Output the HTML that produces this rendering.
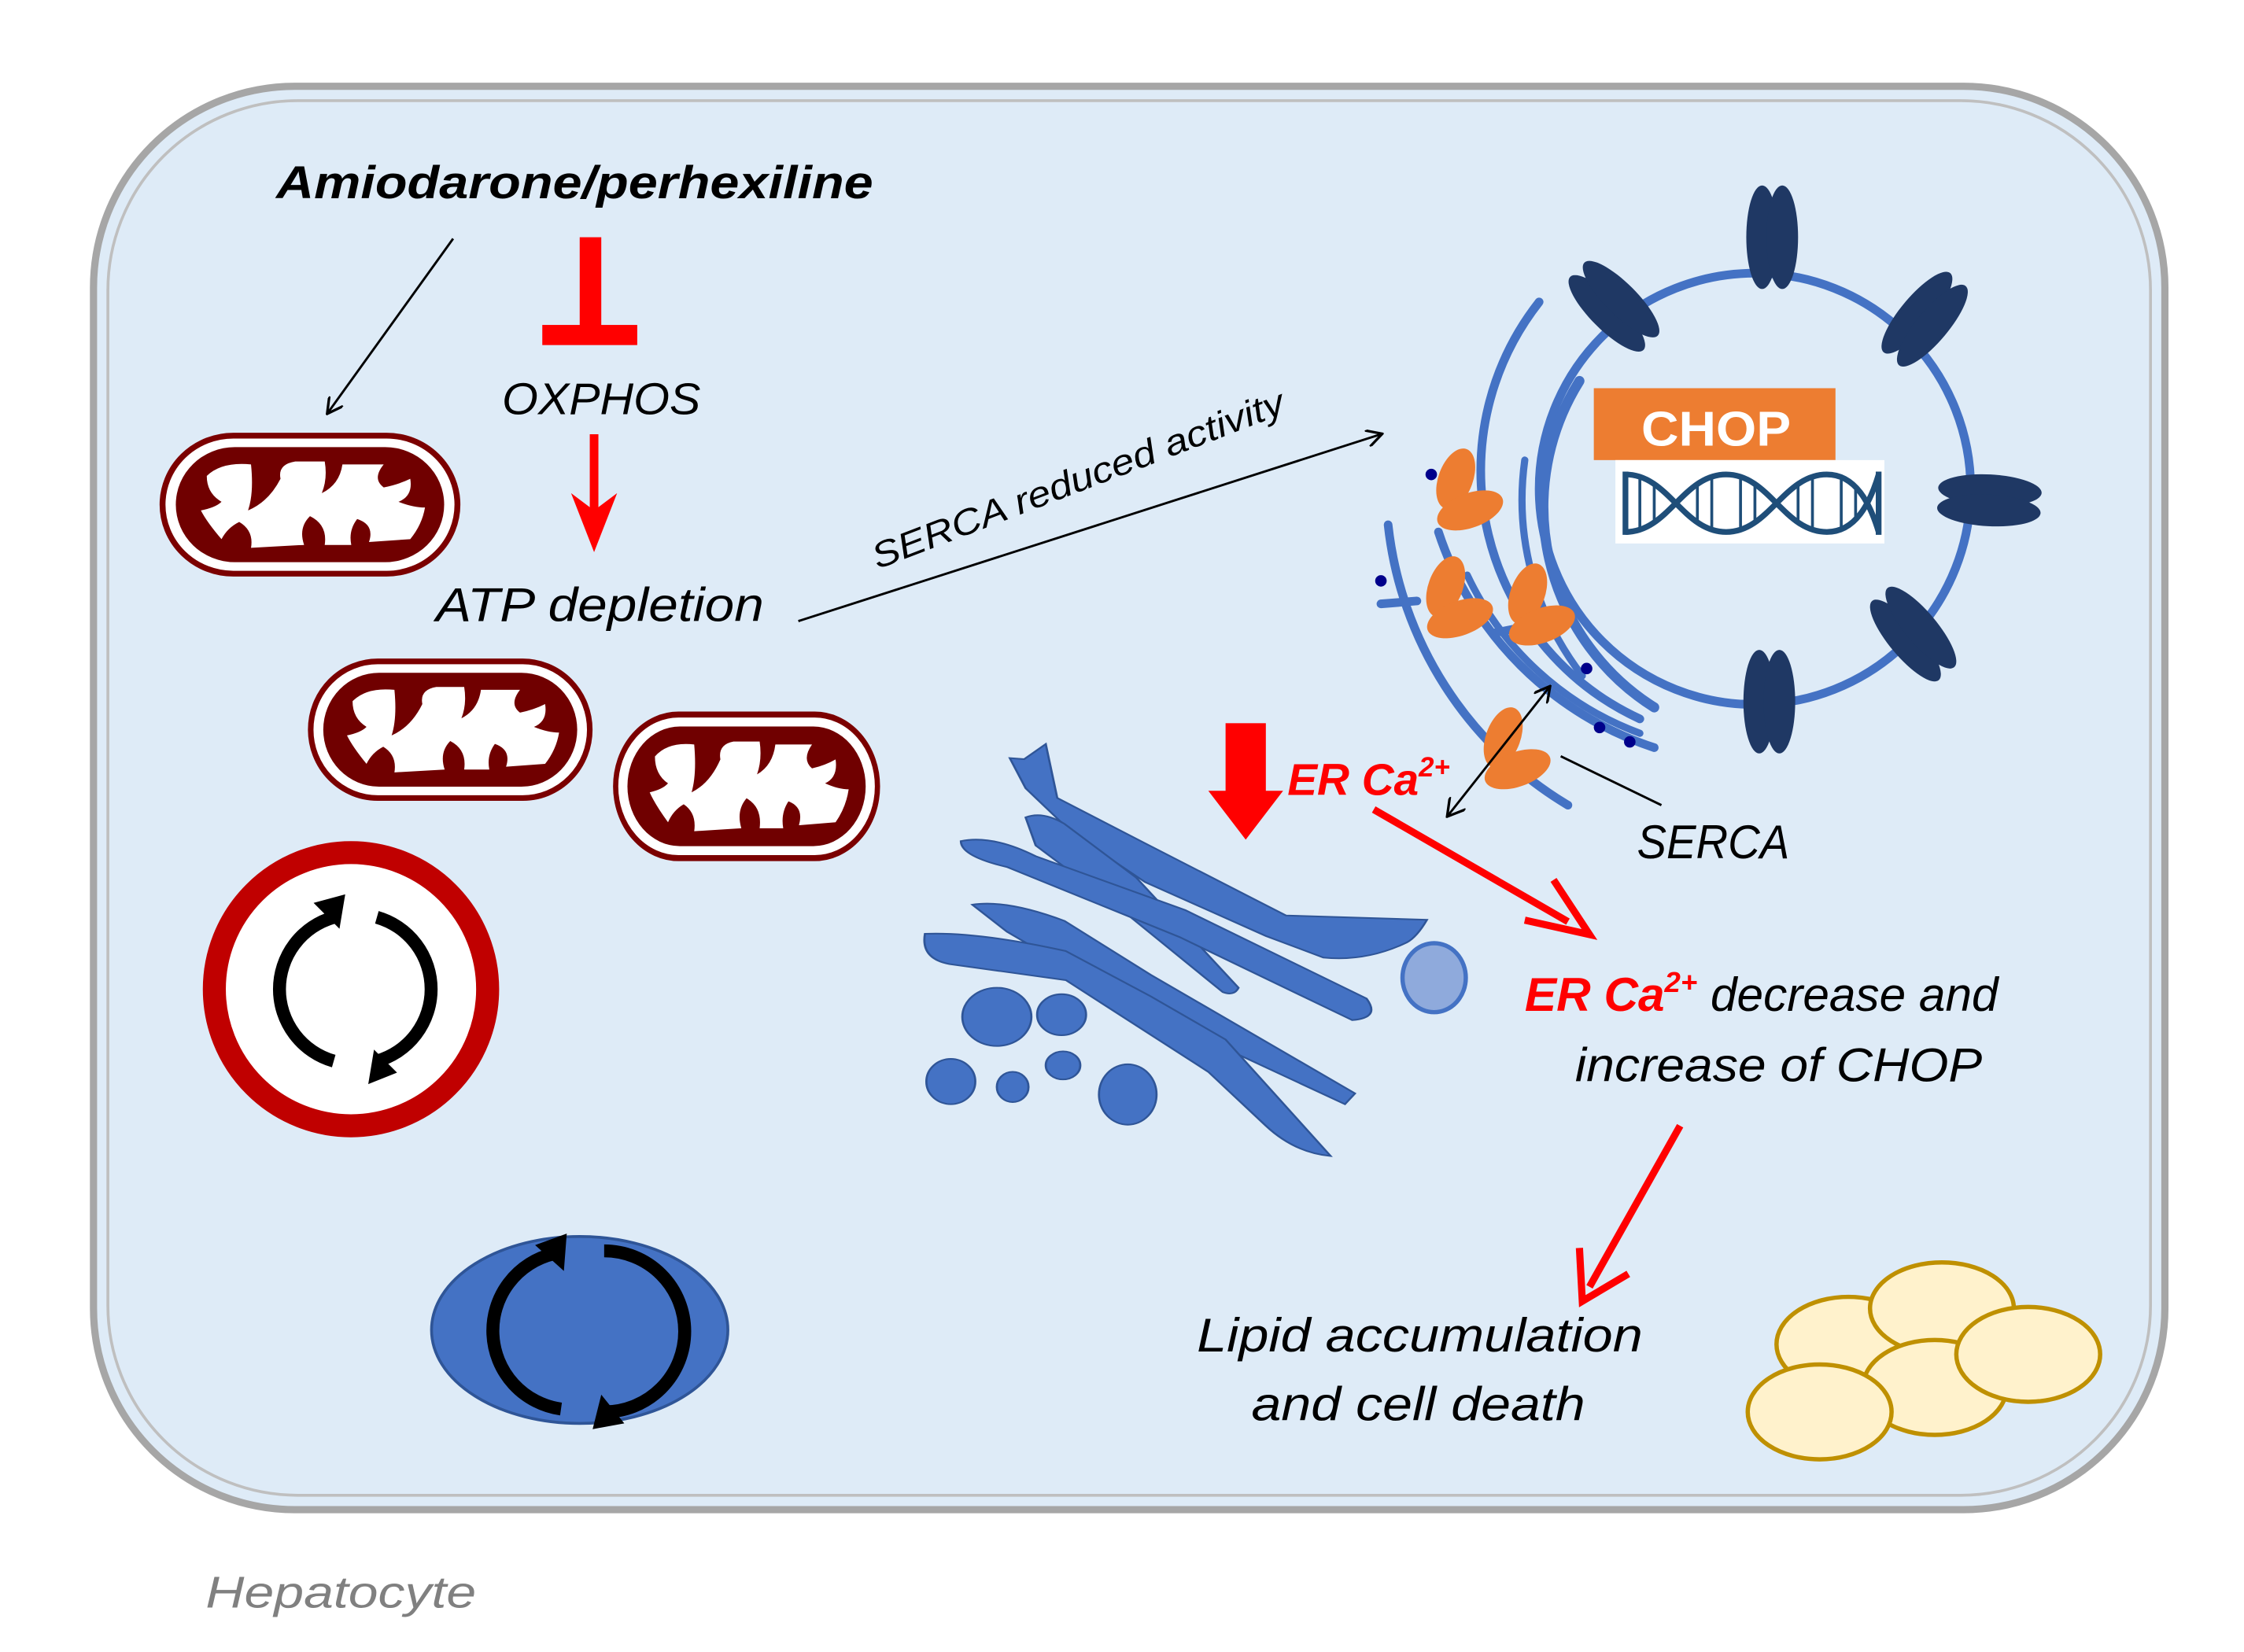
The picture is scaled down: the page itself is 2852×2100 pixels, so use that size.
<!DOCTYPE html>
<html><head><meta charset="utf-8"><style>html,body{margin:0;padding:0;background:#fff}svg{display:block}</style></head>
<body>
<svg width="2852" height="2100" viewBox="0 0 1560 1149" preserveAspectRatio="none" xmlns="http://www.w3.org/2000/svg" font-family="'Liberation Sans', sans-serif">
<defs>
<marker id="oa" markerWidth="12" markerHeight="12" refX="10" refY="6" orient="auto" markerUnits="userSpaceOnUse"><path d="M0,0 L11,6 L0,12" fill="none" stroke="#000" stroke-width="1.8"/></marker>
<marker id="oa2" markerWidth="14" markerHeight="14" refX="1" refY="7" orient="auto" markerUnits="userSpaceOnUse"><path d="M13,0 L1,7 L13,14" fill="none" stroke="#000" stroke-width="1.8"/></marker>
<g id="mito">
<rect x="0" y="0" width="200" height="96" rx="48" fill="#fff" stroke="#7b0000" stroke-width="4"/>
<rect x="9" y="8" width="182" height="80" rx="40" fill="#700000"/>
<path d="M30,28 Q40,18 60,20 Q62,40 58,52 Q72,46 80,30 Q78,20 90,18 L110,18 Q112,30 108,40 Q120,34 122,20 L150,20 Q142,30 150,36 Q160,34 168,30 Q170,42 160,46 Q170,50 178,50 Q176,62 168,72 L140,74 Q144,62 132,58 Q126,66 128,76 L110,76 Q112,62 100,56 Q92,64 96,76 L60,78 Q62,66 52,60 Q44,64 40,72 Q30,60 26,52 Q36,50 40,46 Q30,40 30,28 Z" fill="#fff"/>
</g>
<g id="pore"><ellipse cx="-7" cy="0" rx="11" ry="36" fill="#1f3864"/><ellipse cx="7" cy="0" rx="11" ry="36" fill="#1f3864"/></g>
<g id="serca"><ellipse cx="0" cy="-12" rx="12" ry="22" transform="rotate(20 0 -12)" fill="#ed7d31"/><ellipse cx="10" cy="10" rx="24" ry="12" transform="rotate(-20 10 10)" fill="#ed7d31"/></g>
</defs>

<rect x="65" y="60" width="1440" height="990" rx="140" fill="#deebf7" stroke="#a6a6a6" stroke-width="5"/>
<rect x="75" y="70" width="1420" height="970" rx="132" fill="none" stroke="#bfbfbf" stroke-width="2"/>

<text x="192" y="138" font-size="32" font-weight="bold" font-style="italic" textLength="415" lengthAdjust="spacingAndGlyphs">Amiodarone/perhexiline</text>
<text x="349" y="288" font-size="31" font-style="italic" textLength="138" lengthAdjust="spacingAndGlyphs">OXPHOS</text>
<text x="303" y="432" font-size="33" font-style="italic" textLength="228" lengthAdjust="spacingAndGlyphs">ATP depletion</text>
<text x="0" y="0" font-size="25" font-style="italic" transform="translate(610,396) rotate(-21)" textLength="305" lengthAdjust="spacingAndGlyphs">SERCA reduced activity</text>
<text x="895" y="553" font-size="31" font-weight="bold" font-style="italic" fill="#ff0000">ER Ca<tspan font-size="19" dy="-13">2+</tspan></text>
<text x="1138" y="597" font-size="33" font-style="italic" textLength="106" lengthAdjust="spacingAndGlyphs">SERCA</text>
<text x="1060" y="703" font-size="33" font-style="italic"><tspan fill="#ff0000" font-weight="bold">ER Ca</tspan><tspan fill="#ff0000" font-weight="bold" font-size="20" dy="-13">2+</tspan><tspan dy="13"> decrease and</tspan></text>
<text x="1095" y="752" font-size="33" font-style="italic" textLength="283" lengthAdjust="spacingAndGlyphs">increase of CHOP</text>
<text x="832" y="940" font-size="33" font-style="italic" textLength="310" lengthAdjust="spacingAndGlyphs">Lipid accumulation</text>
<text x="870" y="988" font-size="33" font-style="italic" textLength="232" lengthAdjust="spacingAndGlyphs">and cell death</text>
<text x="143" y="1118" font-size="31" font-style="italic" fill="#808080" textLength="188" lengthAdjust="spacingAndGlyphs">Hepatocyte</text>

<use href="#mito" transform="translate(113,303) scale(1.025,1)"/>
<use href="#mito" transform="translate(216,460) scale(0.97,0.99)"/>
<use href="#mito" transform="translate(428,497) scale(0.91,1.04)"/>

<line x1="315" y1="166" x2="228" y2="287" stroke="#000" stroke-width="1.6" marker-end="url(#oa)"/>
<rect x="403" y="165" width="15" height="66" fill="#ff0000"/>
<rect x="377" y="226" width="66" height="14" fill="#ff0000"/>
<line x1="413" y1="302" x2="413" y2="360" stroke="#ff0000" stroke-width="6"/>
<path d="M397,343 L413,384 L429,343 L413,355 Z" fill="#ff0000"/>
<line x1="555" y1="432" x2="960" y2="302" stroke="#000" stroke-width="1.6" marker-end="url(#oa)"/>

<circle cx="244" cy="688" r="95" fill="#fff" stroke="#c00000" stroke-width="16"/>
<path d="M232,638 A52,52 0 0,0 232,738" fill="none" stroke="#000" stroke-width="9"/>
<path d="M218,628 L240,622 L236,646 Z" fill="#000"/>
<path d="M262,638 A52,52 0 0,1 262,738" fill="none" stroke="#000" stroke-width="9"/>
<path d="M276,746 L256,754 L260,730 Z" fill="#000"/>

<ellipse cx="403" cy="925" rx="103" ry="65" fill="#4472c4" stroke="#2f5597" stroke-width="2"/>
<path d="M385,872 A55,55 0 0,0 390,980" fill="none" stroke="#000" stroke-width="9"/>
<path d="M372,866 L394,858 L392,884 Z" fill="#000"/>
<path d="M420,870 A55,55 0 0,1 420,982" fill="none" stroke="#000" stroke-width="9"/>
<path d="M434,990 L412,994 L418,970 Z" fill="#000"/>

<g fill="none" stroke="#4472c4" stroke-linecap="round">
<circle cx="1220" cy="340" r="150" stroke-width="6"/>
<path d="M1098,265 A165,165 0 0,0 1150,492" stroke-width="7"/>
<path d="M1070,210 A190,190 0 0,0 1140,500" stroke-width="6"/>
<path d="M1000,370 A235,235 0 0,0 1150,520" stroke-width="6"/>
<path d="M1020,400 A215,215 0 0,0 1140,510" stroke-width="5"/>
<path d="M965,365 A260,260 0 0,0 1090,560" stroke-width="6"/>
<path d="M1060,320 A200,200 0 0,0 1100,470" stroke-width="5"/>
<path d="M960,420 L985,418" stroke-width="6"/>
<path d="M1040,440 L1060,436" stroke-width="6"/>
</g>
<g fill="#00008b"><circle cx="960" cy="404" r="4"/><circle cx="995" cy="330" r="4"/><circle cx="1103" cy="465" r="4"/><circle cx="1112" cy="506" r="4"/><circle cx="1133" cy="516" r="4"/></g>

<use href="#pore" transform="translate(1232,165)"/>
<use href="#pore" transform="translate(1122,213) rotate(-45)"/>
<use href="#pore" transform="translate(1338,222) rotate(40)"/>
<use href="#pore" transform="translate(1383,348) rotate(93)"/>
<use href="#pore" transform="translate(1330,441) rotate(-40)"/>
<use href="#pore" transform="translate(1230,488)"/>

<use href="#serca" transform="translate(1012,345)"/>
<use href="#serca" transform="translate(1005,420)"/>
<use href="#serca" transform="translate(1062,425)"/>
<use href="#serca" transform="translate(1045,525)"/>

<rect x="1108" y="270" width="168" height="50" fill="#ed7d31"/>
<text x="1141" y="310" font-size="34" font-weight="bold" fill="#fff" textLength="104" lengthAdjust="spacingAndGlyphs">CHOP</text>
<rect x="1123" y="320" width="187" height="58" fill="#fff"/>
<g fill="none" stroke="#1f4e79" stroke-width="4">
<path d="M1130,330 C1160,330 1170,370 1200,370 C1230,370 1240,330 1270,330 C1290,330 1300,350 1306,370"/>
<path d="M1130,370 C1160,370 1170,330 1200,330 C1230,330 1240,370 1270,370 C1290,370 1300,350 1306,330"/>
<path d="M1130,328 V372 M1306,328 V372" />
<path d="M1140,333 V367 M1150,338 V362 M1180,338 V362 M1190,333 V367 M1210,333 V367 M1220,338 V362 M1250,338 V362 M1260,333 V367 M1280,333 V367 M1290,338 V362" stroke-width="2"/>
</g>

<g fill="#4472c4" stroke="#2f5597" stroke-width="1.5" transform="matrix(1,0,0,0.75,0,123)">
<path d="M727,526 L735,576 L796,618 L894,685 L992,689 Q985,705 978,710 Q950,728 920,724 L880,704 L796,654 L746,609 L713,567 L702,539 L712,540 Z"/>
<path d="M713,594 Q725,588 740,600 L790,650 L861,752 Q858,760 850,756 L780,680 L720,620 Z"/>
<path d="M668,616 Q690,610 720,630 L824,680 L950,762 Q960,780 940,782 L820,705 L700,640 Q668,630 668,616 Z"/>
<path d="M676,675 Q700,670 740,690 L800,740 L942,850 L935,860 L790,770 L700,700 Z"/>
<path d="M643,702 Q680,700 741,718 L800,760 L852,800 L925,908 Q900,905 880,880 L840,830 L741,745 L660,730 Q640,725 643,702 Z"/>
<ellipse cx="693" cy="779" rx="24" ry="27"/>
<ellipse cx="738" cy="777" rx="17" ry="19"/>
<ellipse cx="661" cy="839" rx="17" ry="21"/>
<ellipse cx="704" cy="844" rx="11" ry="14"/>
<ellipse cx="739" cy="824" rx="12" ry="13"/>
<ellipse cx="784" cy="851" rx="20" ry="28"/>
</g>
<ellipse cx="997" cy="680" rx="22" ry="24" fill="#8faadc" stroke="#4472c4" stroke-width="3"/>

<rect x="852" y="503" width="28" height="50" fill="#ff0000"/>
<path d="M840,550 L892,550 L866,584 Z" fill="#ff0000"/>
<line x1="955" y1="563" x2="1090" y2="641" stroke="#ff0000" stroke-width="5"/>
<path d="M1060,640 L1105,650 L1080,612" fill="none" stroke="#ff0000" stroke-width="5"/>
<line x1="1168" y1="783" x2="1105" y2="895" stroke="#ff0000" stroke-width="5"/>
<path d="M1098,868 L1100,905 L1132,886" fill="none" stroke="#ff0000" stroke-width="5"/>
<line x1="1006" y1="568" x2="1077" y2="478" stroke="#000" stroke-width="1.6" marker-end="url(#oa)" marker-start="url(#oa2)"/>
<line x1="1085" y1="526" x2="1155" y2="560" stroke="#000" stroke-width="1.6"/>

<g fill="#fff2cc" stroke="#bf9000" stroke-width="3">
<ellipse cx="1285" cy="935" rx="50" ry="33"/>
<ellipse cx="1350" cy="910" rx="50" ry="32"/>
<ellipse cx="1345" cy="965" rx="50" ry="33"/>
<ellipse cx="1410" cy="942" rx="50" ry="33"/>
<ellipse cx="1265" cy="982" rx="50" ry="33"/>
</g>
</svg>
</body></html>
